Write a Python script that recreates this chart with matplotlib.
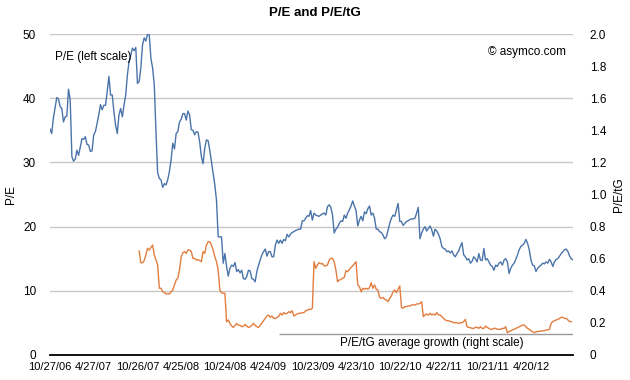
import numpy as np
import pandas as pd
import matplotlib
matplotlib.use('Agg')
import matplotlib.pyplot as plt

plt.rcParams['font.family'] = ['Liberation Sans', 'DejaVu Sans']

# weekly series, first week 10/27/06
start_date = '2006-10-27'
pe = [35.2, 34.5, 36.9, 38.5, 40.1, 39.9, 38.7, 38.4, 36.3, 37.1,
      37.2, 41.4, 39.7, 30.9, 30.2, 30.5, 31.9, 31.1, 32.4, 33.7,
      33.6, 34.0, 32.8, 32.7, 31.7, 31.8, 34.3, 34.8, 36.1, 37.4,
      39.0, 38.2, 38.9, 38.9, 41.0, 43.4, 40.5, 40.5, 37.9, 35.8,
      34.5, 37.4, 38.4, 37.1, 38.9, 40.5, 43.6, 45.7, 46.7, 47.8,
      47.4, 47.9, 42.3, 42.6, 44.7, 48.3, 49.4, 48.9, 50.0, 49.9,
      46.2, 44.7, 42.1, 34.8, 28.4,
      27.5, 27.3, 26.1, 26.7, 26.5, 27.3, 28.6, 30.4, 33.0, 32.1,
      34.5, 34.8, 36.3, 36.7, 37.6, 37.6, 36.6, 38.0, 37.4, 35.1,
      35.0, 34.3, 34.8, 34.7, 33.2, 30.9, 29.8, 32.2, 33.5, 33.4,
      31.9, 30.1, 28.3, 26.5, 24.1, 18.4, 18.4, 18.4, 14.3, 15.8,
      13.8, 12.3, 13.5, 14.0, 13.8, 14.4, 13.0, 13.3, 12.8, 13.2,
      11.9, 11.8, 12.2, 13.2, 13.1, 11.9, 11.8, 11.4,
      13.0, 14.0, 14.8, 15.6, 16.1, 16.5, 15.4, 16.1, 16.1, 15.3,
      15.3, 17.1, 17.9, 17.4, 17.9, 17.4, 18.0, 17.8, 18.8, 18.4,
      18.8, 19.1, 19.2, 19.4, 19.5, 19.6, 19.6, 20.9, 20.9, 21.3,
      21.7, 21.6, 22.5, 21.0, 22.1, 21.8, 21.7, 21.6, 21.8, 22.0,
      22.1, 21.8, 23.1, 23.4, 23.0, 21.8, 19.0, 19.6, 19.9, 20.5,
      20.9, 20.8, 21.8, 21.3, 22.1, 22.6, 23.2, 24.0, 23.2, 22.5,
      20.1, 21.0, 21.6, 20.9, 22.3, 22.0, 22.8, 23.2, 21.8, 22.1,
      21.3, 19.6, 19.6, 19.2, 19.1, 18.7, 18.1, 18.4, 19.4, 20.5,
      21.3, 21.8, 21.6, 22.6, 23.6, 20.8, 20.8, 20.2, 20.5, 20.8,
      20.9, 21.1, 21.2,
      21.2, 21.3, 22.1, 23.0, 18.1, 19.0, 19.6, 20.0, 19.3, 19.7,
      20.1, 19.5, 18.5, 19.6, 19.3, 18.8, 18.1, 16.9, 16.6, 16.5,
      16.1, 16.2, 15.9, 16.2, 15.6, 15.3, 15.8, 16.2, 16.9, 17.5,
      15.6, 15.3, 14.8, 15.0, 14.3, 14.6, 15.3, 15.0, 14.5, 15.8,
      14.8, 14.7, 16.6, 14.8, 15.0, 14.5, 14.0, 13.8, 13.2, 14.0,
      13.8, 14.3, 14.5, 14.0, 14.8, 15.0, 14.5, 12.7, 13.5, 14.0,
      14.3, 14.9, 15.6, 16.4, 16.9, 17.1, 17.4, 18.0, 17.4, 16.4,
      14.8, 14.0, 13.9, 13.0, 13.5, 13.8, 14.0, 14.3, 14.2, 14.5,
      14.3, 14.9, 14.5, 13.8, 14.5, 14.9, 15.0, 15.4, 15.8, 16.1,
      16.4, 16.5, 16.1, 15.4, 15.0, 14.8]

# P/E/tG starts later
petg_start = '2007-11-02'
petg = [0.648, 0.575, 0.575, 0.588, 0.623, 0.665, 0.654, 0.671, 0.685, 0.623,
        0.592, 0.561, 0.416, 0.416, 0.394, 0.39, 0.38, 0.383, 0.38, 0.394,
        0.405, 0.436, 0.467, 0.478, 0.53, 0.612, 0.637, 0.644, 0.633, 0.654,
        0.654, 0.644, 0.602, 0.602, 0.592, 0.595, 0.588, 0.581, 0.644, 0.633,
        0.685, 0.706, 0.706, 0.685, 0.654, 0.612, 0.581, 0.53, 0.405, 0.388,
        0.385, 0.385, 0.207, 0.218, 0.197, 0.181, 0.172, 0.185, 0.197, 0.185,
        0.185, 0.176, 0.18, 0.19, 0.18, 0.172, 0.176, 0.185, 0.197, 0.185,
        0.176, 0.172, 0.185, 0.2, 0.214, 0.228, 0.243, 0.249, 0.235, 0.243,
        0.228, 0.228, 0.235, 0.24, 0.26, 0.249, 0.264, 0.256, 0.26, 0.27,
        0.264, 0.276, 0.243, 0.249, 0.256, 0.26, 0.26, 0.264, 0.264, 0.276,
        0.28, 0.284, 0.284, 0.291,
        0.581, 0.54, 0.561, 0.575, 0.568, 0.57, 0.555, 0.555, 0.561, 0.592,
        0.602, 0.602, 0.581, 0.53, 0.457, 0.467, 0.471, 0.478, 0.484, 0.525,
        0.519, 0.533, 0.546, 0.555, 0.568, 0.581, 0.436, 0.426, 0.394, 0.416,
        0.41, 0.416, 0.41, 0.42, 0.45, 0.416, 0.436, 0.41, 0.405, 0.359,
        0.353, 0.359, 0.347, 0.343, 0.332, 0.353, 0.368, 0.394, 0.405, 0.388,
        0.41, 0.43, 0.297, 0.291, 0.301, 0.301, 0.305, 0.305, 0.312, 0.312,
        0.312, 0.318, 0.318, 0.322, 0.332,
        0.239, 0.249, 0.255, 0.249, 0.26, 0.249, 0.255, 0.249, 0.264, 0.249,
        0.249, 0.239, 0.228, 0.218, 0.214, 0.214, 0.208, 0.208, 0.201, 0.201,
        0.201, 0.197, 0.201, 0.201, 0.208, 0.222, 0.176, 0.172, 0.17, 0.166,
        0.166, 0.172, 0.172, 0.166, 0.176, 0.166, 0.166, 0.18, 0.172, 0.166,
        0.16, 0.16, 0.166, 0.166, 0.16, 0.16, 0.16, 0.166, 0.166, 0.176,
        0.139, 0.145, 0.151, 0.156, 0.16, 0.166, 0.17, 0.176, 0.18, 0.187,
        0.187, 0.176, 0.166, 0.16, 0.151, 0.145, 0.139, 0.145, 0.145, 0.148,
        0.148, 0.151, 0.151, 0.156, 0.156, 0.16, 0.197, 0.208, 0.214, 0.218,
        0.222, 0.228, 0.235, 0.235, 0.228, 0.228, 0.218, 0.208, 0.208]

avg_growth = 0.13
avg_start = '2009-06-05'

blue = '#4a74aa'
orange = '#e27d3e'

dates = pd.date_range(start_date, periods=len(pe), freq='7D')
t0 = pd.Timestamp(start_date)
x_pe = np.arange(len(pe))
off = (pd.Timestamp(petg_start) - t0).days // 7
x_petg = off + np.arange(len(petg))
x_avg = (pd.Timestamp(avg_start) - t0).days // 7

fig = plt.figure(figsize=(6.3, 3.8), dpi=100)
ax = fig.add_axes([0.0794, 0.0658, 0.8301, 0.8447])
ax2 = ax.twinx()

ax.plot(x_pe, pe, color=blue, lw=1.0)
ax2.plot(x_petg, petg, color=orange, lw=1.0)
ax2.hlines(avg_growth, x_avg, len(pe) - 1, color='#999999', lw=1.0)

xmax = len(pe) - 1
ax.set_xlim(0, xmax)
ax.set_ylim(0, 50)
ax2.set_ylim(0, 2.0)
ax.set_yticks(np.arange(0, 51, 10))
ax2.set_yticks(np.arange(0, 2.01, 0.2))
ax2.set_yticklabels(['0'] + ['%.1f' % v for v in np.arange(0.2, 2.01, 0.2)])
ax.yaxis.grid(True, color='#c8c8c8', lw=1.0)
ax.set_axisbelow(True)

tick_idx = np.arange(0, len(pe), 26)
ax.set_xticks(tick_idx)
ax.set_xticklabels([f'{d.month}/{d.day}/{d:%y}' for d in dates[tick_idx]])

for a in (ax, ax2):
    for s in ('top', 'left', 'right', 'bottom'):
        a.spines[s].set_visible(False)
    a.tick_params(length=0, labelsize=8.5)
ax.spines['bottom'].set_visible(True)
ax.spines['bottom'].set_color('black')
ax.spines['bottom'].set_linewidth(1.3)
ax.tick_params(axis='y', pad=10)
ax2.tick_params(axis='y', pad=12)
ax.tick_params(axis='x', pad=5, labelsize=8)

ax.set_ylabel('P/E', fontsize=8.5, labelpad=4)
ax2.set_ylabel('P/E/tG', fontsize=8.5, labelpad=5)
fig.text(0.5, 0.966, 'P/E and P/E/tG', ha='center', va='center',
         fontsize=9.5, fontweight='bold')
ax.text(0.01, 0.928, 'P/E (left scale)', transform=ax.transAxes,
        fontsize=8.5, va='center', ha='left')
ax.text(0.987, 0.944, '\u00a9 asymco.com', transform=ax.transAxes,
        fontsize=8.5, va='center', ha='right')
ax2.text(227, 0.075, 'P/E/tG average growth (right scale)',
         fontsize=8.5, ha='center', va='center')

fig.savefig('out.png', dpi=100)
